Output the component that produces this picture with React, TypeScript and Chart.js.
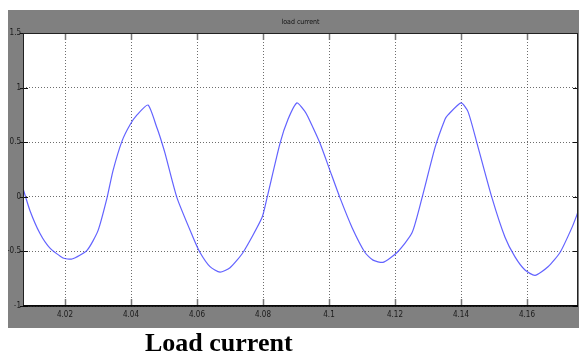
import React, { useEffect, useRef } from "react";
import { Chart, registerables } from "chart.js";

Chart.register(...registerables);

const TIME = [
  4.00718, 4.00939, 4.01242, 4.01545, 4.01939, 4.02212, 4.02667, 4.03, 4.03273, 4.03455,
  4.03727, 4.0397, 4.04182, 4.04515, 4.04788, 4.04879, 4.0503, 4.05394, 4.05879, 4.06091,
  4.06394, 4.06697, 4.07, 4.07394, 4.0797, 4.08121, 4.08515, 4.08758, 4.0903, 4.09273,
  4.09364, 4.09727, 4.1003, 4.10333, 4.10697, 4.11091, 4.11333, 4.11636, 4.12061, 4.12515,
  4.12818, 4.13212, 4.13515, 4.13606, 4.14, 4.14212, 4.14485, 4.14939, 4.15333, 4.15636,
  4.15939, 4.16242, 4.16636, 4.17, 4.17364, 4.17545,
];
const CURRENT = [
  0.085, -0.127, -0.336, -0.47, -0.56, -0.57, -0.49, -0.31, -0.01, 0.24,
  0.51, 0.66, 0.75, 0.84, 0.63, 0.55, 0.4, -0.01, -0.37, -0.51,
  -0.64, -0.69, -0.65, -0.51, -0.19, -0.01, 0.49, 0.71, 0.86, 0.78,
  0.73, 0.49, 0.24, -0.01, -0.28, -0.51, -0.58, -0.6, -0.51, -0.33,
  -0.01, 0.45, 0.71, 0.75, 0.86, 0.78, 0.49, -0.01, -0.37, -0.55,
  -0.67, -0.72, -0.64, -0.51, -0.28, -0.14,
];
const X_TICKS = [4.02, 4.04, 4.06, 4.08, 4.1, 4.12, 4.14, 4.16];
const Y_TICKS = [-1, -0.5, 0, 0.5, 1, 1.5];
const X_MIN = 4.00727;
const X_MAX = 4.17545;
const PLOT_TITLE = "load current";
const CAPTION = "Load current";

const FONT = "'DejaVu Sans Condensed', 'Liberation Sans Narrow', 'DejaVu Sans', sans-serif";

const framePlugin = {
  id: "matlabFrame",
  beforeDraw(chart: any) {
    const { ctx, chartArea: a } = chart;
    ctx.save();
    ctx.fillStyle = "#808080";
    ctx.fillRect(8, 10, 571, 318);
    ctx.fillStyle = "#ffffff";
    ctx.fillRect(a.left, a.top, a.right - a.left, a.bottom - a.top);
    ctx.restore();
  },
  afterDraw(chart: any) {
    const { ctx, chartArea: a, scales } = chart;
    ctx.save();
    // ticks inside
    ctx.strokeStyle = "#777777";
    ctx.lineWidth = 1.5;
    for (const v of X_TICKS) {
      const x = Math.round(scales.x.getPixelForValue(v)) + 0.5;
      ctx.beginPath();
      ctx.moveTo(x, a.top);
      ctx.lineTo(x, a.top + 7);
      ctx.moveTo(x, a.bottom);
      ctx.lineTo(x, a.bottom - 7);
      ctx.stroke();
    }
    ctx.strokeStyle = "#111111";
    ctx.lineWidth = 1.2;
    for (const v of Y_TICKS) {
      const y = Math.round(scales.y.getPixelForValue(v)) + 0.5;
      ctx.beginPath();
      ctx.moveTo(a.left - 3, y);
      ctx.lineTo(a.left + 5, y);
      ctx.moveTo(a.right, y);
      ctx.lineTo(a.right - 5, y);
      ctx.stroke();
    }
    // box
    ctx.strokeStyle = "#222222";
    ctx.lineWidth = 1;
    ctx.strokeRect(a.left + 0.5, a.top + 0.5, a.right - a.left - 1, a.bottom - a.top - 1);
    ctx.strokeStyle = "#000000";
    ctx.lineWidth = 1.5;
    ctx.beginPath();
    ctx.moveTo(a.left, a.bottom);
    ctx.lineTo(a.right, a.bottom);
    ctx.stroke();
    // title
    ctx.fillStyle = "#111111";
    ctx.font = `7px ${FONT}`;
    ctx.textAlign = "center";
    ctx.textBaseline = "middle";
    ctx.fillText(PLOT_TITLE, (a.left + a.right) / 2, 22);
    ctx.restore();
  },
};

export default function App() {
  const ref = useRef<HTMLCanvasElement | null>(null);

  useEffect(() => {
    if (!ref.current) return;
    const chart = new Chart(ref.current, {
      type: "line",
      data: {
        datasets: [
          {
            data: TIME.map((t, i) => ({ x: t, y: CURRENT[i] })),
            borderColor: "rgba(70,70,255,0.85)",
            borderWidth: 1.2,
            pointRadius: 0,
            tension: 0.2,
            fill: false,
          },
        ],
      },
      options: {
        animation: false,
        responsive: false,
        maintainAspectRatio: false,
        layout: { padding: { left: 8, right: 1, top: 33, bottom: 2 } },
        plugins: {
          legend: { display: false },
          title: { display: false },
          tooltip: { enabled: false },
        },
        scales: {
          x: {
            type: "linear",
            min: X_MIN,
            max: X_MAX,
            afterBuildTicks: (axis: any) => {
              axis.ticks = X_TICKS.map((v) => ({ value: v }));
            },
            afterFit: (axis: any) => {
              axis.height = 22;
            },
            grid: { color: "rgba(60,60,60,0.75)", drawTicks: false, lineWidth: 1 },
            border: { display: false, dash: [1, 2] },
            ticks: {
              padding: 4,
              color: "#1a1a1a",
              font: { family: FONT, size: 8 },
              maxRotation: 0,
              autoSkip: false,
              callback: (v: any) => String(Math.round(Number(v) * 100) / 100),
            },
          },
          y: {
            type: "linear",
            min: -1,
            max: 1.5,
            afterBuildTicks: (axis: any) => {
              axis.ticks = Y_TICKS.map((v) => ({ value: v }));
            },
            afterFit: (axis: any) => {
              axis.width = 15;
            },
            grid: { color: "rgba(60,60,60,0.75)", drawTicks: false, lineWidth: 1 },
            border: { display: false, dash: [1, 2] },
            ticks: {
              padding: 2,
              color: "#1a1a1a",
              font: { family: FONT, size: 8 },
              autoSkip: false,
              callback: (v: any) => String(v),
            },
          },
        },
      },
      plugins: [framePlugin],
    });
    return () => chart.destroy();
  }, []);

  return (
    <div style={{ position: "fixed", left: 0, top: 0, width: 579, height: 356, background: "#fff" }}>
      <canvas ref={ref} width={579} height={330} style={{ position: "absolute", left: 0, top: 0, width: 579, height: 330 }} />
      <div
        style={{
          position: "absolute",
          left: 145,
          top: 330,
          fontFamily: "'Liberation Serif', 'Times New Roman', serif",
          fontWeight: "bold",
          fontSize: 26,
          lineHeight: "26px",
          color: "#000",
          whiteSpace: "nowrap",
        }}
      >
        {CAPTION}
      </div>
    </div>
  );
}
